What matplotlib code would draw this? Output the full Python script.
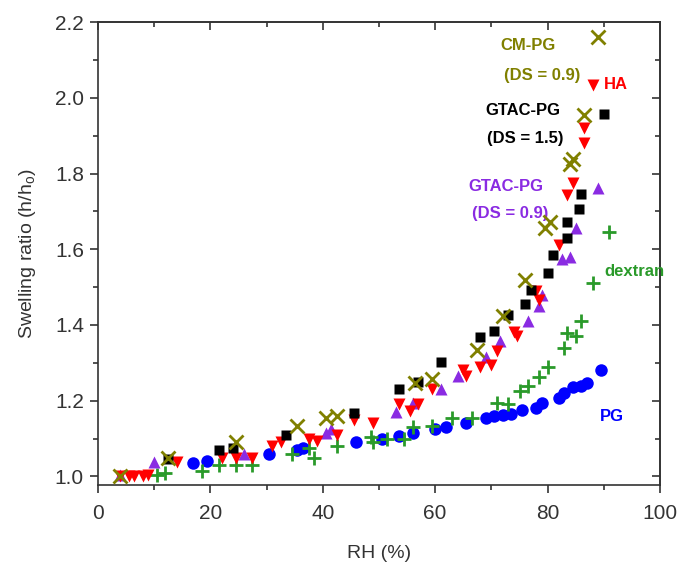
import matplotlib
matplotlib.use("Agg")
import matplotlib.pyplot as plt
from matplotlib.ticker import MultipleLocator, FormatStrFormatter

plt.rcParams['font.family'] = ['Liberation Sans', 'DejaVu Sans']

# Swelling ratio vs relative humidity for each polymer film
pg_rh = [17, 19.5, 30.5, 35.5, 36.5, 46, 50.5, 53.5, 56, 60, 62, 65.5, 69, 70.5, 72,
         73.5, 75.5, 78, 79, 82, 83, 84.5, 86, 87, 89.5]
pg_sr = [1.035, 1.04, 1.058, 1.07, 1.075, 1.09, 1.10, 1.108, 1.115, 1.125, 1.13, 1.14,
         1.155, 1.16, 1.162, 1.165, 1.175, 1.18, 1.195, 1.208, 1.22, 1.235, 1.24, 1.248, 1.282]

dextran_rh = [10.5, 12, 18.5, 21.5, 24.5, 27.5, 34.5, 37.5, 38.5, 42.5, 48.5, 49, 51.5,
              54.5, 56, 59.5, 63, 66.5, 71, 73, 75, 76.5, 78.5, 80, 83, 83.5, 85, 86, 88, 91]
dextran_sr = [1.005, 1.01, 1.015, 1.03, 1.03, 1.03, 1.058, 1.075, 1.05, 1.08, 1.105, 1.09,
              1.10, 1.10, 1.13, 1.133, 1.155, 1.155, 1.195, 1.19, 1.225, 1.238, 1.262, 1.29,
              1.34, 1.38, 1.37, 1.41, 1.51, 1.645]

ha_rh = [4, 5.5, 6.5, 8, 9, 14, 22, 24.5, 27.5, 31, 32.5, 37.5, 39, 42.5, 45.5, 49, 53.5,
         55.5, 57, 59.5, 65, 65.5, 68, 70, 71, 74, 74.5, 78, 78.5, 82, 83.5, 84.5, 86.5,
         86.5, 88]
ha_sr = [1.0, 1.0, 1.0, 1.0, 1.005, 1.037, 1.05, 1.05, 1.05, 1.08, 1.09, 1.098, 1.093,
         1.11, 1.15, 1.142, 1.19, 1.172, 1.19, 1.23, 1.282, 1.264, 1.29, 1.295, 1.33, 1.382,
         1.37, 1.49, 1.467, 1.612, 1.744, 1.776, 1.88, 1.92, 2.034]

gtac15_rh = [12.5, 21.5, 24, 33.5, 45.5, 53.5, 57, 61, 68, 70.5, 73, 76, 77, 80, 81,
             83.5, 83.5, 85.5, 86, 90]
gtac15_sr = [1.045, 1.071, 1.075, 1.11, 1.168, 1.23, 1.25, 1.303, 1.367, 1.383, 1.427,
             1.455, 1.493, 1.538, 1.586, 1.63, 1.673, 1.705, 1.745, 1.957]

cmpg_rh = [4, 12.5, 24.5, 35.5, 40.5, 42.5, 56.5, 59.5, 67.5, 72, 76, 79.5, 80.5, 84,
           84.5, 86.5, 89]
cmpg_sr = [1.0, 1.05, 1.09, 1.132, 1.155, 1.16, 1.248, 1.256, 1.335, 1.425, 1.52, 1.655,
           1.672, 1.825, 1.838, 1.955, 2.16]

gtac09_rh = [4, 10, 26, 40.5, 41.5, 53, 56, 61, 64, 69, 71.5, 76.5, 78.5, 79, 82.5, 84,
             85, 89]
gtac09_sr = [1.005, 1.037, 1.058, 1.115, 1.124, 1.17, 1.195, 1.23, 1.265, 1.315, 1.357,
             1.41, 1.45, 1.48, 1.573, 1.58, 1.657, 1.763]

OLIVE = '#808000'
GREEN = '#2a9a2a'
PURPLE = '#8a2be2'
AXC = '#333333'

fig = plt.figure(figsize=(6.89, 5.65), dpi=100)
ax = fig.add_axes([0.142, 0.142, 0.816, 0.819])

ax.plot(pg_rh, pg_sr, 'o', color='#0000ff', ms=9, mec='none', zorder=3)
ax.plot(dextran_rh, dextran_sr, '+', color=GREEN, ms=9.5, mew=2.0, zorder=3)
ax.plot(gtac09_rh, gtac09_sr, '^', color=PURPLE, ms=8.5, mec='none', zorder=4)
ax.plot(ha_rh, ha_sr, 'v', color='#ff0000', ms=9, mec='none', zorder=5)
ax.plot(gtac15_rh, gtac15_sr, 's', color='black', ms=7.5, mec='none', zorder=6)
ax.plot(cmpg_rh, cmpg_sr, 'x', color=OLIVE, ms=9.5, mew=2.0, zorder=7)

ax.set_xlim(0, 100)
ax.set_ylim(0.978, 2.2)
ax.xaxis.set_major_locator(MultipleLocator(20))
ax.xaxis.set_minor_locator(MultipleLocator(10))
ax.yaxis.set_major_locator(MultipleLocator(0.2))
ax.yaxis.set_minor_locator(MultipleLocator(0.1))
ax.yaxis.set_major_formatter(FormatStrFormatter('%.1f'))

for s in ax.spines.values():
    s.set_color(AXC)
    s.set_linewidth(1.2)
ax.tick_params(which='both', direction='out', color=AXC, width=1.2,
               labelsize=15, labelcolor='#333333', pad=4)
ax.tick_params(axis='x', pad=8)
ax.tick_params(which='major', length=6)
ax.tick_params(which='minor', length=3.5)

# mirrored inward ticks on top and right
top = ax.secondary_xaxis('top')
top.xaxis.set_major_locator(MultipleLocator(20))
top.xaxis.set_minor_locator(MultipleLocator(10))
top.tick_params(which='both', direction='in', color=AXC, width=1.2, labeltop=False)
top.tick_params(which='major', length=6)
top.tick_params(which='minor', length=3.5)
top.spines['top'].set_color(AXC)
top.spines['top'].set_linewidth(1.2)
right = ax.secondary_yaxis('right')
right.yaxis.set_major_locator(MultipleLocator(0.2))
right.yaxis.set_minor_locator(MultipleLocator(0.1))
right.tick_params(which='both', direction='in', color=AXC, width=1.2, labelright=False)
right.tick_params(which='major', length=6)
right.tick_params(which='minor', length=3.5)
right.spines['right'].set_color(AXC)
right.spines['right'].set_linewidth(1.2)

ax.set_xlabel('RH (%)', fontsize=14, color='#333333', labelpad=16)
ax.set_ylabel('Swelling ratio (h/h$_\\mathregular{o}$)', fontsize=14, color='#333333',
              labelpad=12)

lab = dict(fontsize=12, fontweight='bold', ha='center', va='center')
ax.text(76.5, 2.137, 'CM-PG', color=OLIVE, **lab)
ax.text(79.0, 2.058, '(DS = 0.9)', color=OLIVE, **lab)
ax.text(92.2, 2.036, 'HA', color='#ff0000', **lab)
ax.text(75.6, 1.967, 'GTAC-PG', color='black', **lab)
ax.text(76.0, 1.893, '(DS = 1.5)', color='black', **lab)
ax.text(72.6, 1.766, 'GTAC-PG', color=PURPLE, **lab)
ax.text(73.3, 1.694, '(DS = 0.9)', color=PURPLE, **lab)
ax.text(95.4, 1.540, 'dextran', color=GREEN, **lab)
ax.text(91.5, 1.158, 'PG', color='#0000ff', **lab)

fig.savefig('out.png', dpi=100)
